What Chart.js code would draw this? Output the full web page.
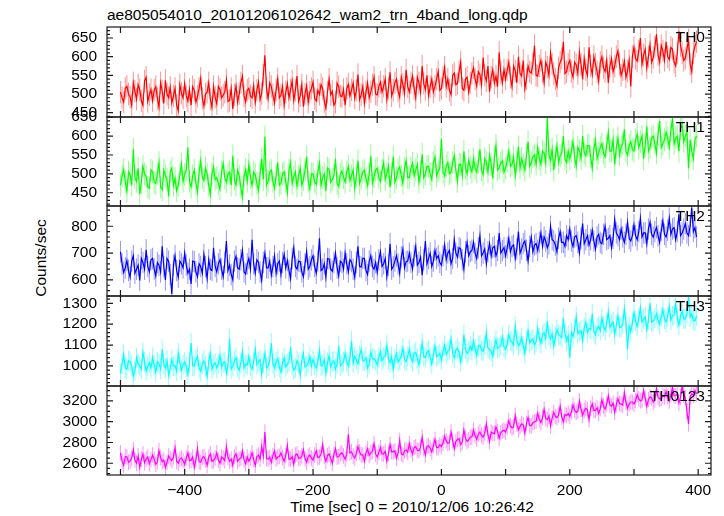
<!DOCTYPE html>
<html>
<head>
<meta charset="utf-8">
<script src="https://cdn.jsdelivr.net/npm/chart.js@4.4.1/dist/chart.umd.min.js"></script>
<style>
  html, body { margin: 0; padding: 0; background: #fff; }
  #wrap { position: relative; width: 724px; height: 516px; overflow: hidden; font-family: 'Liberation Sans', Arial, sans-serif; color: #000; }
  #wrap canvas { position: absolute; left: 0; }
  .txt { position: absolute; font-size: 15.5px; line-height: 16px; white-space: nowrap; }
</style>
</head>
<body>
<div id="wrap">
  <div class="txt" style="left:107px; top:7px;">ae805054010_20101206102642_wam2_trn_4band_long.qdp</div>
  <div class="txt" style="left:41px; top:258px; transform: translate(-50%, -50%) rotate(-90deg);">Counts/sec</div>
  <div class="txt" style="left:412px; top:507px; transform: translate(-50%, -50%);">Time [sec] 0 = 2010/12/06 10:26:42</div>
</div>
<script>
// bin centre times (sec from 2010/12/06 10:26:42)
const times = [
  -500,-497.5,-495,-492.5,-490,-487.5,-485,-482.5,-480,-477.5,
  -475,-472.5,-470,-467.5,-465,-462.5,-460,-457.5,-455,-452.5,
  -450,-447.5,-445,-442.5,-440,-437.5,-435,-432.5,-430,-427.5,
  -425,-422.5,-420,-417.5,-415,-412.5,-410,-407.5,-405,-402.5,
  -400,-397.5,-395,-392.5,-390,-387.5,-385,-382.5,-380,-377.5,
  -375,-372.5,-370,-367.5,-365,-362.5,-360,-357.5,-355,-352.5,
  -350,-347.5,-345,-342.5,-340,-337.5,-335,-332.5,-330,-327.5,
  -325,-322.5,-320,-317.5,-315,-312.5,-310,-307.5,-305,-302.5,
  -300,-297.5,-295,-292.5,-290,-287.5,-285,-282.5,-280,-277.5,
  -275,-272.5,-270,-267.5,-265,-262.5,-260,-257.5,-255,-252.5,
  -250,-247.5,-245,-242.5,-240,-237.5,-235,-232.5,-230,-227.5,
  -225,-222.5,-220,-217.5,-215,-212.5,-210,-207.5,-205,-202.5,
  -200,-197.5,-195,-192.5,-190,-187.5,-185,-182.5,-180,-177.5,
  -175,-172.5,-170,-167.5,-165,-162.5,-160,-157.5,-155,-152.5,
  -150,-147.5,-145,-142.5,-140,-137.5,-135,-132.5,-130,-127.5,
  -125,-122.5,-120,-117.5,-115,-112.5,-110,-107.5,-105,-102.5,
  -100,-97.5,-95,-92.5,-90,-87.5,-85,-82.5,-80,-77.5,
  -75,-72.5,-70,-67.5,-65,-62.5,-60,-57.5,-55,-52.5,
  -50,-47.5,-45,-42.5,-40,-37.5,-35,-32.5,-30,-27.5,
  -25,-22.5,-20,-17.5,-15,-12.5,-10,-7.5,-5,-2.5,
  0,2.5,5,7.5,10,12.5,15,17.5,20,22.5,
  25,27.5,30,32.5,35,37.5,40,42.5,45,47.5,
  50,52.5,55,57.5,60,62.5,65,67.5,70,72.5,
  75,77.5,80,82.5,85,87.5,90,92.5,95,97.5,
  100,102.5,105,107.5,110,112.5,115,117.5,120,122.5,
  125,127.5,130,132.5,135,137.5,140,142.5,145,147.5,
  150,152.5,155,157.5,160,162.5,165,167.5,170,172.5,
  175,177.5,180,182.5,185,187.5,190,192.5,195,197.5,
  200,202.5,205,207.5,210,212.5,215,217.5,220,222.5,
  225,227.5,230,232.5,235,237.5,240,242.5,245,247.5,
  250,252.5,255,257.5,260,262.5,265,267.5,270,272.5,
  275,277.5,280,282.5,285,287.5,290,292.5,295,297.5,
  300,302.5,305,307.5,310,312.5,315,317.5,320,322.5,
  325,327.5,330,332.5,335,337.5,340,342.5,345,347.5,
  350,352.5,355,357.5,360,362.5,365,367.5,370,372.5,
  375,377.5,380,382.5,385,387.5,390,392.5,395,397.5
];

const th0 = [
  505,490,478,515,521,500,492,470,530,508,486,525,512,482,470,535,545,480,498,512,
  482,510,520,488,465,530,508,475,537,500,490,518,476,495,515,470,455,525,502,490,
  528,495,481,512,470,520,510,478,494,515,542,488,468,500,505,530,486,465,520,492,
  474,520,512,490,497,505,538,480,483,515,460,498,522,478,501,530,548,495,479,510,
  515,495,490,522,478,510,532,485,501,550,604,515,488,530,520,498,476,512,541,490,
  497,520,470,505,528,490,512,535,483,510,548,480,495,525,466,500,522,478,505,515,
  532,488,481,510,499,525,515,480,462,505,540,498,507,470,478,530,520,495,493,512,
  470,515,526,495,511,530,489,510,552,485,498,520,475,505,530,490,506,525,545,500,
  498,520,532,505,521,540,485,515,558,495,510,530,540,508,492,545,526,502,565,520,
  505,530,548,515,490,545,530,505,575,528,512,550,496,520,540,505,521,540,560,510,
  515,545,572,520,540,510,498,550,556,525,528,560,585,515,510,540,545,505,530,555,
  570,540,522,560,552,525,598,550,535,575,506,545,565,530,548,520,612,555,530,565,
  540,565,585,545,520,575,562,530,600,555,548,590,515,540,575,560,556,580,630,550,
  548,575,590,560,530,585,572,550,610,580,555,540,522,570,585,595,640,555,560,580,
  590,560,545,585,578,555,612,580,540,595,565,550,625,575,552,600,580,560,535,585,
  600,570,560,590,530,575,595,560,575,600,615,580,550,565,588,545,562,590,520,600,
  625,595,588,615,650,580,605,620,570,600,632,585,598,625,660,605,585,630,615,590,
  640,600,592,625,620,585,575,610,668,630,610,590,596,620,645,580,560,610,628,640
];
const th1 = [
  470,495,512,480,455,505,498,470,565,490,480,515,446,478,520,500,492,465,462,510,
  505,478,475,500,530,465,458,510,496,485,440,505,515,470,488,455,470,498,526,480,
  498,510,570,480,465,495,510,475,452,505,535,490,482,515,500,470,445,500,518,485,
  490,475,460,505,527,490,478,500,505,470,548,485,470,510,495,465,438,495,512,480,
  525,490,470,505,498,475,455,500,540,485,598,470,480,505,510,480,462,495,530,470,
  475,500,505,480,450,510,530,475,492,505,468,495,515,470,485,510,545,480,460,500,
  500,480,472,505,528,470,490,500,455,515,512,478,485,495,540,475,466,500,508,490,
  478,505,520,482,495,510,462,495,535,475,488,505,510,488,470,500,548,475,492,510,
  515,490,480,510,530,485,502,520,465,500,545,478,490,510,518,495,475,515,535,490,
  490,515,528,495,510,525,478,505,552,490,500,520,520,500,485,530,545,495,508,515,
  593,505,495,520,530,500,505,530,548,510,480,525,525,495,560,515,500,535,518,505,
  540,515,505,530,565,510,498,540,530,505,550,525,488,545,575,510,515,530,535,505,
  515,535,560,520,525,545,495,530,572,515,540,525,510,550,585,520,530,545,550,525,
  570,540,525,560,555,530,650,550,535,565,510,545,575,530,548,555,600,540,530,560,
  540,560,585,545,520,570,562,540,600,555,548,575,575,545,515,565,590,540,555,570,
  580,555,545,575,610,560,560,590,525,570,595,550,572,580,618,560,550,575,585,565,
  560,590,605,570,585,600,540,575,625,560,570,595,600,580,555,605,640,570,580,590,
  610,595,570,615,645,580,595,600,560,620,630,585,600,610,515,590,560,540,590,600
];
const th2 = [
  705,660,628,645,672,635,610,670,690,625,640,655,598,680,665,640,712,650,630,675,
  680,640,615,665,655,630,725,650,600,680,670,620,548,655,690,635,610,670,660,645,
  700,655,625,640,585,670,668,630,612,660,650,625,695,650,605,675,640,635,720,650,
  630,660,675,640,612,665,745,635,655,620,600,670,688,645,640,675,710,630,622,660,
  680,640,750,660,625,675,665,630,598,665,700,645,645,670,618,650,690,625,660,670,
  620,665,695,645,672,635,605,680,720,650,640,670,668,630,612,660,705,640,650,675,
  690,650,625,670,755,635,640,660,610,680,678,640,632,665,700,645,615,670,665,640,
  700,660,630,675,668,640,610,665,725,650,648,680,680,635,620,670,690,650,640,665,
  628,675,705,650,660,680,612,655,735,640,650,670,690,660,625,685,715,645,668,670,
  700,665,640,690,725,655,665,685,618,675,745,660,680,700,650,670,710,680,690,665,
  655,690,730,675,700,710,660,680,750,700,685,720,715,675,640,705,740,690,705,710,
  740,700,680,720,765,690,700,715,660,705,735,690,720,725,690,710,775,700,710,720,
  690,720,755,705,725,730,680,715,780,700,715,735,745,710,670,725,760,705,730,735,
  710,740,775,725,760,745,720,735,800,750,745,730,705,755,780,740,740,725,765,750,
  790,745,725,760,765,740,700,755,810,735,750,765,730,750,785,745,715,760,770,740,
  735,770,800,750,755,765,720,755,825,775,765,750,790,760,740,770,815,755,745,765,
  805,765,750,780,830,760,775,775,735,790,815,770,760,780,795,765,740,785,820,770,
  760,785,830,770,790,795,750,780,845,765,775,790,810,775,765,800,870,780,795,760
];
const th3 = [
  965,1010,1055,990,985,1025,1020,1000,950,975,1040,1010,1000,985,1065,1020,975,1000,1015,990,
  1040,1005,970,1020,1010,985,1080,1010,990,1025,955,990,1030,1000,1000,975,1062,1015,980,1005,
  1020,995,960,1015,1110,1000,1000,1030,1045,990,975,1010,1025,1000,950,1020,1060,985,1005,1015,
  990,1010,1050,995,1015,1020,965,1000,1130,985,1000,1025,1040,995,980,1015,1070,990,1010,1005,
  1045,1000,985,1020,1080,1005,1020,1030,960,1015,1060,990,1000,1025,1110,1010,990,1020,1035,995,
  970,1015,1040,995,1010,1020,1090,1005,980,990,1025,1010,955,1025,1060,995,1000,1015,1045,1000,
  1030,1005,990,1020,1075,1000,1005,1030,965,1015,1050,995,1020,1025,985,1010,1095,1000,1010,1020,
  1060,1020,1000,1040,1120,1015,1045,1030,1010,1050,1080,1025,1025,1040,990,1010,1065,1035,1035,1025,
  1005,1040,1070,1025,1040,1050,1100,1030,1015,1045,985,1035,1060,1020,1030,1050,1085,1030,1020,1045,
  1080,1040,1020,1060,1065,1035,1005,1055,1110,1045,1040,1065,1075,1040,1010,1055,1095,1045,1050,1060,
  1030,1070,1100,1055,1070,1080,1130,1060,1040,1075,1085,1065,1020,1055,1150,1080,1060,1070,1095,1075,
  1120,1080,1050,1095,1100,1075,1070,1100,1160,1085,1080,1070,1045,1095,1125,1085,1090,1100,1140,1090,
  1080,1105,1150,1120,1115,1100,1190,1125,1095,1110,1135,1095,1060,1120,1170,1110,1120,1130,1100,1115,
  1180,1135,1110,1150,1160,1130,1215,1145,1130,1155,1095,1140,1175,1150,1145,1135,1230,1155,1120,1145,
  1040,1160,1140,1175,1235,1155,1165,1170,1120,1185,1210,1160,1180,1175,1250,1165,1150,1180,1190,1170,
  1230,1190,1170,1205,1260,1185,1200,1210,1150,1195,1240,1185,1185,1200,1275,1210,1080,1190,1165,1205,
  1255,1215,1190,1230,1280,1210,1225,1235,1175,1220,1300,1210,1215,1230,1250,1220,1200,1235,1270,1225,
  1210,1235,1285,1220,1240,1245,1300,1230,1195,1240,1260,1225,1225,1250,1330,1235,1250,1220,1215,1240
];
const th0123 = [
  2700,2620,2580,2665,2660,2610,2620,2650,2730,2630,2600,2670,2560,2640,2690,2605,2640,2660,2595,2635,
  2680,2640,2590,2615,2720,2655,2615,2630,2560,2610,2670,2645,2625,2660,2750,2620,2600,2640,2650,2625,
  2590,2650,2700,2625,2630,2660,2560,2635,2740,2615,2610,2655,2665,2630,2580,2660,2690,2620,2625,2650,
  2700,2630,2600,2660,2650,2625,2760,2655,2620,2640,2580,2665,2690,2620,2640,2650,2720,2635,2595,2660,
  2620,2650,2700,2635,2580,2665,2680,2640,2760,2670,2900,2645,2640,2660,2610,2675,2720,2640,2660,2665,
  2700,2655,2620,2675,2770,2640,2640,2665,2590,2680,2690,2650,2650,2670,2730,2645,2610,2665,2680,2650,
  2630,2680,2720,2655,2660,2690,2780,2665,2620,2675,2690,2650,2600,2685,2740,2660,2665,2690,2700,2670,
  2640,2685,2880,2700,2710,2670,2650,2695,2760,2710,2680,2680,2620,2700,2740,2675,2700,2715,2790,2690,
  2660,2705,2750,2690,2690,2715,2620,2695,2780,2710,2710,2720,2650,2700,2820,2690,2680,2720,2730,2705,
  2790,2730,2690,2750,2760,2725,2720,2755,2850,2740,2680,2765,2770,2745,2710,2770,2830,2750,2750,2780,
  2760,2795,2860,2815,2790,2800,2900,2820,2740,2810,2830,2835,2780,2805,2920,2840,2810,2825,2850,2855,
  2920,2865,2830,2880,2900,2870,2850,2890,2980,2875,2810,2900,2890,2885,2950,2905,2840,2895,2910,2920,
  2900,2945,3010,2960,2940,2950,3060,2975,2920,2955,2980,2970,2890,2985,3040,2965,2960,2990,3000,3005,
  3080,3020,2990,3040,3120,3030,3020,3055,2960,3035,3090,3050,3040,3065,3150,3045,3000,3070,3060,3080,
  3050,3095,3160,3110,3090,3100,3200,3120,3060,3105,3130,3115,3020,3130,3170,3110,3110,3135,3080,3125,
  3210,3150,3120,3170,3250,3160,3150,3180,3090,3165,3220,3175,3170,3160,3280,3185,3130,3170,3190,3190,
  3170,3205,3260,3220,3200,3210,3300,3225,3150,3215,3240,3230,3190,3210,3320,3235,3220,3220,3250,3240,
  3290,3240,3200,3260,3330,3250,3250,3270,3180,3235,3340,3260,3230,3100,2980,3240,3270,3255,3300,3270
];

// typical 1-sigma error per band (counts/sec)
const errs = [30, 30, 40, 48, 75];
const bandNames = ['TH0', 'TH1', 'TH2', 'TH3', 'TH0123'];

// tick values / labels
const xMajor = [-500, -400, -300, -200, -100, 0, 100, 200, 300, 400];
const xTickVals = [-400, -200, 0, 200, 400];
const xTickLabels = ['\u2212400', '\u2212200', '0', '200', '400'];
const th0Ticks = [450, 500, 550, 600, 650];
const th1Ticks = [450, 500, 550, 600, 650];
const th2Ticks = [600, 700, 800];
const th3Ticks = [1000, 1100, 1200, 1300];
const th0123Ticks = [2600, 2800, 3000, 3200];

const X_MIN = -521, X_MAX = 420;
const PAD = 12;
const FONT = { family: "'Liberation Sans', Arial, sans-serif", size: 15.5 };

const panels = [
  { vals: th0, ticks: th0Ticks, min: 438.5, max: 679.5, major: 50, minor: 10, color: '#ff0000', light: 'rgba(255,60,60,0.55)', top: 27, h: 90 },
  { vals: th1, ticks: th1Ticks, min: 415, max: 650.5, major: 50, minor: 10, color: '#00ff00', light: 'rgba(60,255,60,0.55)', top: 117, h: 89 },
  { vals: th2, ticks: th2Ticks, min: 540, max: 875.5, major: 100, minor: 20, color: '#0000ff', light: 'rgba(60,60,255,0.55)', top: 206, h: 90 },
  { vals: th3, ticks: th3Ticks, min: 904, max: 1335, major: 100, minor: 20, color: '#00ffff', light: 'rgba(60,255,255,0.6)', top: 296, h: 90 },
  { vals: th0123, ticks: th0123Ticks, min: 2487, max: 3344, major: 200, minor: 50, color: '#ff00ff', light: 'rgba(255,60,255,0.55)', top: 386, h: 89 }
];

const errorBars = {
  id: 'errorBars',
  beforeDatasetsDraw(chart, args, opts) {
    const { ctx, chartArea: a, scales: { x, y } } = chart;
    ctx.save();
    ctx.beginPath();
    ctx.rect(a.left, a.top, a.width, a.height);
    ctx.clip();
    ctx.strokeStyle = opts.color;
    ctx.lineWidth = 1;
    ctx.beginPath();
    chart.data.datasets[0].data.forEach(p => {
      const px = x.getPixelForValue(p.x);
      ctx.moveTo(px, y.getPixelForValue(p.y - opts.err));
      ctx.lineTo(px, y.getPixelForValue(p.y + opts.err));
    });
    ctx.stroke();
    ctx.restore();
  }
};

// PGPLOT-like box with inward ticks on all four sides
const frameBox = {
  id: 'frameBox',
  afterDraw(chart, args, opts) {
    const { ctx, chartArea: a, scales: { x, y } } = chart;
    ctx.save();
    ctx.strokeStyle = '#1a1a1a';
    ctx.lineWidth = 1.2;
    ctx.strokeRect(a.left, a.top, a.width, a.height);
    ctx.beginPath();
    xMajor.forEach(v => {
      const px = x.getPixelForValue(v);
      ctx.moveTo(px, a.top); ctx.lineTo(px, a.top + 6);
      ctx.moveTo(px, a.bottom); ctx.lineTo(px, a.bottom - 6);
    });
    const start = Math.ceil(y.min / opts.minor) * opts.minor;
    for (let v = start; v <= y.max; v += opts.minor) {
      const py = y.getPixelForValue(v);
      const len = v % opts.major === 0 ? 6 : 3;
      ctx.moveTo(a.left, py); ctx.lineTo(a.left + len, py);
      ctx.moveTo(a.right, py); ctx.lineTo(a.right - len, py);
    }
    ctx.stroke();
    ctx.restore();
  }
};

// stop Chart.js from reserving extra room for overflowing edge labels
function noEdgePadding(s) {
  s.paddingTop = 0; s.paddingBottom = 0; s.paddingLeft = 0; s.paddingRight = 0;
}

const wrap = document.getElementById('wrap');

panels.forEach((p, i) => {
  const last = i === panels.length - 1;
  const canvas = document.createElement('canvas');
  const height = PAD + p.h + (last ? 40 : PAD);
  canvas.width = 724;
  canvas.height = height;
  canvas.style.top = (p.top - PAD) + 'px';
  canvas.style.width = '724px';
  canvas.style.height = height + 'px';
  wrap.appendChild(canvas);

  const lbl = document.createElement('div');
  lbl.className = 'txt';
  lbl.textContent = bandNames[i];
  lbl.style.right = (724 - 705) + 'px';
  lbl.style.top = (p.top + 2) + 'px';
  wrap.appendChild(lbl);

  new Chart(canvas, {
    type: 'line',
    data: {
      datasets: [{
        data: times.map((t, k) => ({ x: t, y: p.vals[k] })),
        borderColor: p.color,
        borderWidth: 1.2,
        pointRadius: 0,
        tension: 0,
        fill: false
      }]
    },
    options: {
      responsive: false,
      animation: false,
      events: [],
      layout: { padding: { top: PAD, bottom: last ? 6 : PAD, left: 0, right: 13 } },
      plugins: {
        legend: { display: false },
        tooltip: { enabled: false },
        errorBars: { color: p.light, err: errs[i] },
        frameBox: { major: p.major, minor: p.minor }
      },
      scales: {
        x: {
          type: 'linear', min: X_MIN, max: X_MAX, display: last, bounds: 'data',
          grid: { display: false, drawTicks: false }, border: { display: false },
          afterBuildTicks: s => { s.ticks = xTickVals.map(v => ({ value: v })); },
          afterFit: s => { noEdgePadding(s); if (last) s.height = 34; },
          ticks: {
            color: '#000', font: FONT, padding: 6, maxRotation: 0, autoSkip: false,
            callback: v => xTickLabels[xTickVals.indexOf(v)]
          }
        },
        y: {
          type: 'linear', min: p.min, max: p.max, bounds: 'data',
          grid: { display: false, drawTicks: false }, border: { display: false },
          afterBuildTicks: s => { s.ticks = p.ticks.map(v => ({ value: v })); },
          afterFit: s => { noEdgePadding(s); s.width = 107; },
          ticks: { color: '#000', font: FONT, padding: 10, autoSkip: false, callback: v => String(v) }
        }
      }
    },
    plugins: [errorBars, frameBox]
  });
});
</script>
</body>
</html>
